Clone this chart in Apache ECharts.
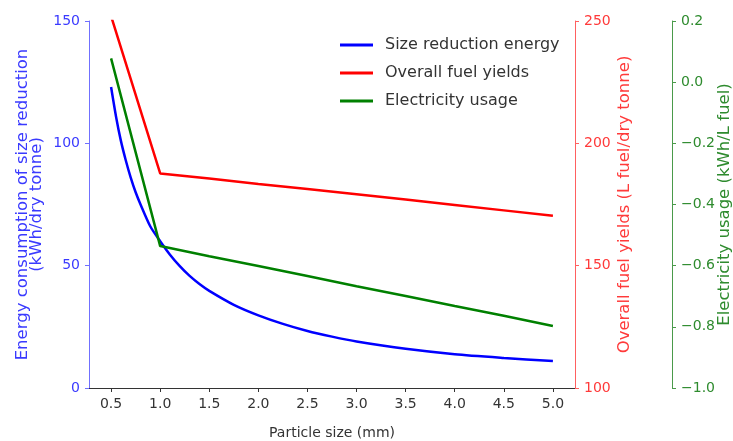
<!DOCTYPE html>
<html>
<head>
<meta charset="utf-8">
<script src="https://cdn.jsdelivr.net/npm/echarts@6/dist/echarts.min.js"></script>
<style>
  html, body { margin: 0; padding: 0; background: #fff; }
  #chart { width: 733px; height: 441px; }
</style>
</head>
<body>
<div id="chart"></div>
<script>
// Size reduction energy (kWh/dry tonne) against particle size (mm)
const energySizes = [0.5, 0.55, 0.6, 0.65, 0.7, 0.75, 0.8, 0.9, 1.0, 1.1, 1.2, 1.3, 1.4, 1.5, 1.75, 2.0, 2.25, 2.5, 2.75, 3.0, 3.5, 4.0, 4.5, 5.0];
const sizeReductionEnergy = [123, 111, 101, 93, 86, 80, 75, 66, 60, 54.5, 49.8, 45.8, 42.5, 39.7, 34, 29.7, 26.2, 23.3, 21, 19, 16, 13.8, 12.3, 11];

// Fuel yield and electricity usage sampled every 0.5 mm
const particleSizes = [0.5, 1.0, 1.5, 2.0, 2.5, 3.0, 3.5, 4.0, 4.5, 5.0];
const fuelYields = [252, 187.7, 185.6, 183.4, 181.3, 179.2, 177.0, 174.8, 172.6, 170.4];
const electricityUsage = [0.078, -0.536, -0.569, -0.601, -0.634, -0.667, -0.699, -0.732, -0.764, -0.797];

// Axis ticks
const xTicks = [0.5, 1.0, 1.5, 2.0, 2.5, 3.0, 3.5, 4.0, 4.5, 5.0];

const FONT = 'DejaVu Sans';
const BLUE = '#0000ff', RED = '#ff0000', GREEN = '#008000';

const pairs = (xs, ys) => xs.map((x, i) => [x, ys[i]]);
const minusSign = s => s.replace('-', '\u2212');

const chart = echarts.init(document.getElementById('chart'), null, { renderer: 'canvas' });

function yAxisStyle(lineColor, textColor) {
  return {
    nameMoveOverlap: false,
    axisLine: { show: true, lineStyle: { color: lineColor, width: 1 } },
    axisTick: { show: true, inside: false, length: 4, lineStyle: { color: lineColor, width: 1 } },
    splitLine: { show: false },
    axisLabel: { color: textColor, fontFamily: FONT, fontSize: 14, margin: 9 },
    nameTextStyle: { color: textColor, fontFamily: FONT, fontSize: 16.5, lineHeight: 14 }
  };
}

const blueAxis = yAxisStyle('#7070ff', '#3a3aff');
const redAxis = yAxisStyle('#ff6060', '#ff3a3a');
const greenAxis = yAxisStyle('#4a9a4a', '#2e8b2e');

chart.setOption({
  animation: false,
  backgroundColor: '#ffffff',
  grid: { left: 89, right: 158, top: 21, bottom: 53, containLabel: false, outerBoundsMode: 'none' },
  legend: {
    orient: 'vertical',
    left: 340,
    top: 35,
    padding: 0,
    itemGap: 8,
    itemWidth: 33,
    itemHeight: 3,
    icon: 'rect',
    textStyle: { color: '#333', fontFamily: FONT, fontSize: 16, lineHeight: 20, padding: [0, 0, 0, 7] },
    data: ['Size reduction energy', 'Overall fuel yields', 'Electricity usage']
  },
  xAxis: {
    type: 'value',
    min: 0.275,
    max: 5.225,
    name: 'Particle size (mm)',
    nameLocation: 'middle',
    nameGap: 38,
    nameMoveOverlap: false,
    nameTextStyle: { color: '#333', fontFamily: FONT, fontSize: 14 },
    axisLine: { show: true, onZero: false, lineStyle: { color: '#333', width: 1 } },
    axisTick: { show: true, length: 4, customValues: xTicks, lineStyle: { color: '#333' } },
    axisLabel: {
      customValues: xTicks,
      color: '#333', fontFamily: FONT, fontSize: 14, margin: 9,
      formatter: v => v.toFixed(1)
    },
    splitLine: { show: false }
  },
  yAxis: [
    Object.assign({
      type: 'value', position: 'left', min: 0, max: 150, interval: 50,
      name: 'Energy consumption of size reduction\n(kWh/dry tonne)',
      nameLocation: 'middle', nameGap: 45
    }, blueAxis),
    Object.assign({
      type: 'value', position: 'right', min: 100, max: 250, interval: 50,
      name: 'Overall fuel yields (L fuel/dry tonne)',
      nameLocation: 'middle', nameGap: 43
    }, redAxis),
    Object.assign({
      type: 'value', position: 'right', offset: 97, min: -1.0, max: 0.2, interval: 0.2,
      name: 'Electricity usage (kWh/L fuel)',
      nameLocation: 'middle', nameGap: 46
    }, greenAxis, {
      axisLabel: Object.assign({}, greenAxis.axisLabel, {
        formatter: v => minusSign((Math.round(v * 10) / 10).toFixed(1))
      })
    })
  ],
  series: [
    {
      name: 'Size reduction energy', type: 'line', yAxisIndex: 0,
      data: pairs(energySizes, sizeReductionEnergy),
      symbol: 'none', smooth: 0.25,
      lineStyle: { color: BLUE, width: 2.5 }, itemStyle: { color: BLUE }
    },
    {
      name: 'Overall fuel yields', type: 'line', yAxisIndex: 1,
      data: pairs(particleSizes, fuelYields),
      symbol: 'none', clip: true,
      lineStyle: { color: RED, width: 2.5 }, itemStyle: { color: RED }
    },
    {
      name: 'Electricity usage', type: 'line', yAxisIndex: 2,
      data: pairs(particleSizes, electricityUsage),
      symbol: 'none',
      lineStyle: { color: GREEN, width: 2.5 }, itemStyle: { color: GREEN }
    }
  ]
});
</script>
</body>
</html>
